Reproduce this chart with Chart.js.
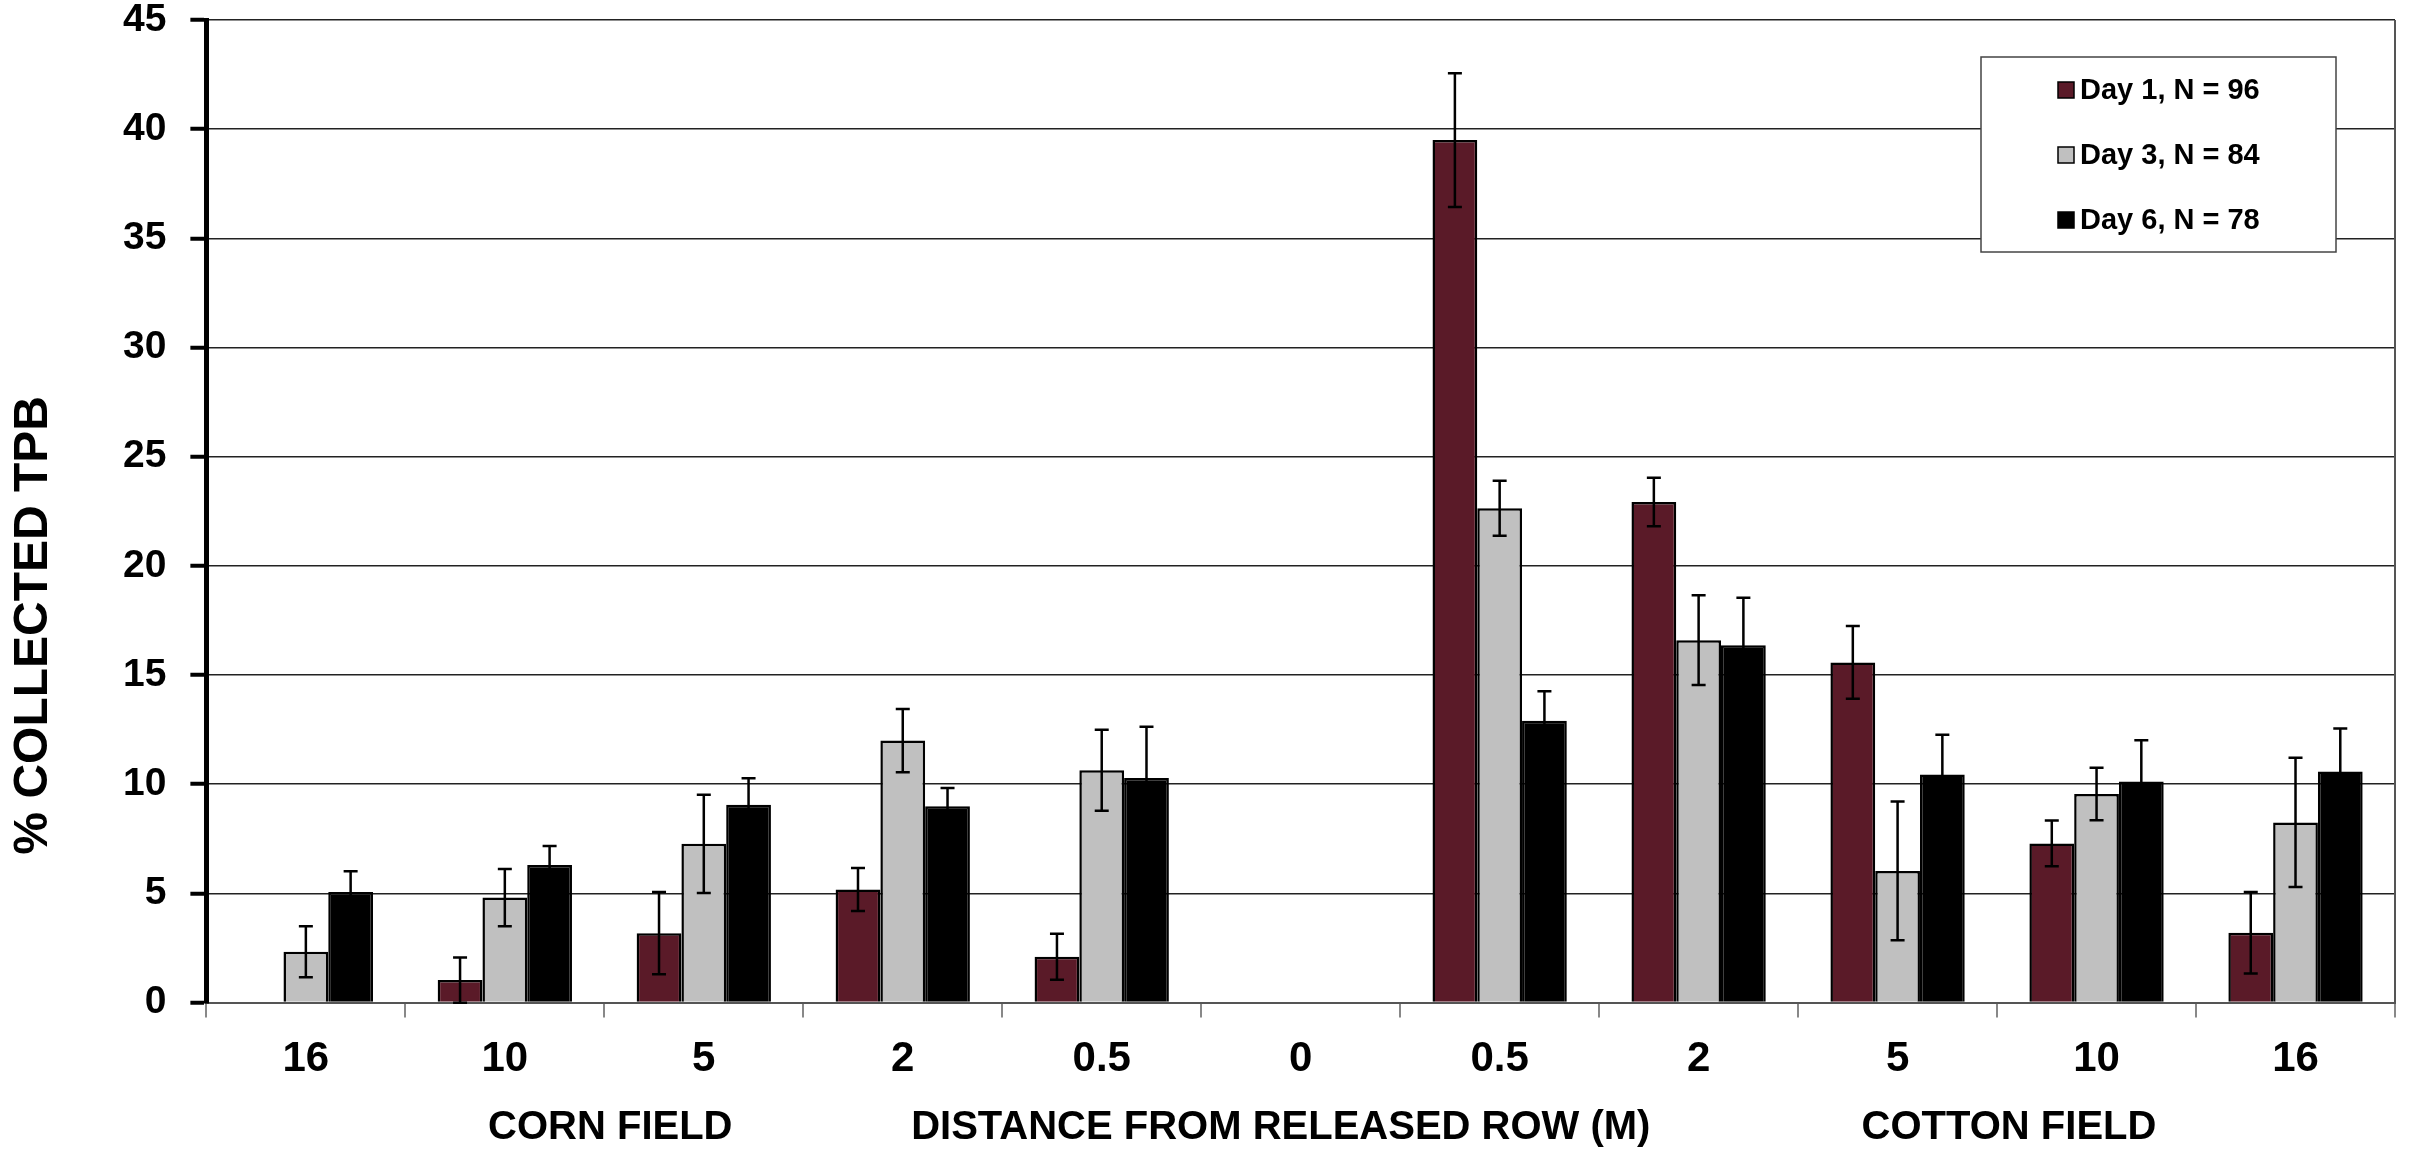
<!DOCTYPE html>
<html>
<head>
<meta charset="utf-8">
<script src="https://cdn.jsdelivr.net/npm/chart.js@4.4.1/dist/chart.umd.min.js"></script>
<style>
  html, body { margin: 0; padding: 0; background: #fff; }
  #wrap { width: 2412px; height: 1152px; position: relative; }
</style>
</head>
<body>
<div id="wrap"><canvas id="tpbChart"></canvas></div>
<script>
const distances = ['16', '10', '5', '2', '0.5', '0', '0.5', '2', '5', '10', '16'];
const seriesNames = ['Day 1, N = 96', 'Day 3, N = 84', 'Day 6, N = 78'];
const day1 = [0, 1.03, 3.18, 5.18, 2.1, 0, 39.5, 22.93, 15.58, 7.29, 3.2];
const day3 = [2.33, 4.81, 7.27, 12.0, 10.64, 0, 22.64, 16.6, 6.03, 9.55, 8.25];
const day6 = [5.07, 6.3, 9.06, 8.99, 10.29, 0, 12.91, 16.37, 10.45, 10.12, 10.58];
const day1Err = [0, 1.04, 1.88, 0.98, 1.05, 0, 3.06, 1.11, 1.67, 1.05, 1.87];
const day3Err = [1.17, 1.31, 2.25, 1.45, 1.85, 0, 1.26, 2.06, 3.18, 1.2, 2.96];
const day6Err = [0.95, 0.87, 1.22, 0.84, 2.34, 0, 1.35, 2.17, 1.82, 1.9, 1.97];
const yTicks = [0, 5, 10, 15, 20, 25, 30, 35, 40, 45];
const yTitle = '% COLLECTED TPB';
const fieldLabels = ['CORN FIELD', 'DISTANCE FROM RELEASED ROW (M)', 'COTTON FIELD'];
const fieldLabelAt = [1.53, 4.9, 8.56];

const colors = ['#5a1a28', '#c0c0c0', '#000000'];
const arial = '"Liberation Sans", Arial, sans-serif';

const errorBars = {
  id: 'errorBars',
  afterDatasetsDraw(chart) {
    const { ctx } = chart;
    const yScale = chart.scales.y;
    const errs = [day1Err, day3Err, day6Err];
    ctx.save();
    ctx.strokeStyle = '#000';
    ctx.lineWidth = 2.5;
    chart.data.datasets.forEach((ds, i) => {
      const meta = chart.getDatasetMeta(i);
      meta.data.forEach((bar, j) => {
        const e = errs[i][j];
        if (!e) return;
        const v = ds.data[j];
        const yTop = yScale.getPixelForValue(v + e);
        const yBot = yScale.getPixelForValue(v - e);
        ctx.beginPath();
        ctx.moveTo(bar.x, yTop);
        ctx.lineTo(bar.x, yBot);
        ctx.moveTo(bar.x - 7, yTop);
        ctx.lineTo(bar.x + 7, yTop);
        ctx.moveTo(bar.x - 7, yBot);
        ctx.lineTo(bar.x + 7, yBot);
        ctx.stroke();
      });
    });
    ctx.restore();
  }
};

const frameAndLegend = {
  id: 'frameAndLegend',
  afterDraw(chart) {
    const { ctx, chartArea } = chart;
    ctx.save();
    // right frame line
    ctx.strokeStyle = '#555';
    ctx.lineWidth = 2;
    ctx.beginPath();
    ctx.moveTo(chartArea.right, chartArea.top);
    ctx.lineTo(chartArea.right, chartArea.bottom);
    ctx.stroke();

    // legend box
    const bx = 1981, by = 57, bw = 355, bh = 195;
    ctx.fillStyle = '#fff';
    ctx.fillRect(bx, by, bw, bh);
    ctx.strokeStyle = '#444';
    ctx.lineWidth = 1.5;
    ctx.strokeRect(bx, by, bw, bh);
    ctx.font = 'bold 29px ' + arial;
    ctx.textBaseline = 'middle';
    chart.data.datasets.forEach((ds, i) => {
      const cy = 90 + i * 65;
      ctx.fillStyle = ds.backgroundColor;
      ctx.fillRect(2058, cy - 8, 16, 16);
      ctx.strokeStyle = '#000';
      ctx.lineWidth = 1.5;
      ctx.strokeRect(2058, cy - 8, 16, 16);
      ctx.fillStyle = '#000';
      ctx.fillText(ds.label, 2080, cy + 1);
    });

    // field labels under the axis
    const xScale = chart.scales.x;
    ctx.font = 'bold 40px ' + arial;
    ctx.textAlign = 'center';
    ctx.fillStyle = '#000';
    fieldLabels.forEach((t, i) => {
      ctx.fillText(t, xScale.getPixelForValue(fieldLabelAt[i]), chartArea.bottom + 125);
    });

    // y axis title, sitting a bit below the middle of the axis
    ctx.translate(34, (chartArea.top + chartArea.bottom) / 2 + 114);
    ctx.rotate(-Math.PI / 2);
    ctx.font = 'bold 48px ' + arial;
    ctx.fillText(yTitle, 0, 0);
    ctx.restore();
  }
};

new Chart(document.getElementById('tpbChart'), {
  type: 'bar',
  data: {
    labels: distances,
    datasets: [
      { label: seriesNames[0], data: day1, backgroundColor: colors[0], borderColor: '#000', borderWidth: 2.5 },
      { label: seriesNames[1], data: day3, backgroundColor: colors[1], borderColor: '#000', borderWidth: 2.5 },
      { label: seriesNames[2], data: day6, backgroundColor: colors[2], borderColor: '#000', borderWidth: 2.5 }
    ]
  },
  options: {
    responsive: true,
    maintainAspectRatio: false,
    animation: false,
    devicePixelRatio: 1,
    categoryPercentage: 0.675,
    barPercentage: 1.0,
    layout: { padding: { left: 99, right: 17, top: 0, bottom: 50 } },
    plugins: {
      legend: { display: false },
      tooltip: { enabled: false }
    },
    scales: {
      x: {
        grid: {
          offset: true,
          drawOnChartArea: false,
          drawTicks: true,
          tickLength: 15,
          color: '#888',
          lineWidth: 2
        },
        border: { color: '#555', width: 2 },
        ticks: {
          color: '#000',
          padding: 17,
          font: { family: arial, size: 42, weight: 'bold' }
        }
      },
      y: {
        min: 0,
        max: 45,
        afterBuildTicks(scale) { scale.ticks = yTicks.map(v => ({ value: v })); },
        // the "45" label may poke out above the plot, like in the original
        afterFit(scale) { scale.paddingTop = 20; scale.paddingBottom = 0; },
        grid: {
          color: '#222',
          lineWidth: 1.5,
          tickLength: 16,
          tickColor: '#000',
          tickWidth: 4
        },
        border: { color: '#000', width: 5 },
        ticks: {
          color: '#000',
          padding: 24,
          font: { family: arial, size: 39, weight: 'bold', lineHeight: 1 }
        }
      }
    }
  },
  plugins: [errorBars, frameAndLegend]
});
</script>
</body>
</html>
